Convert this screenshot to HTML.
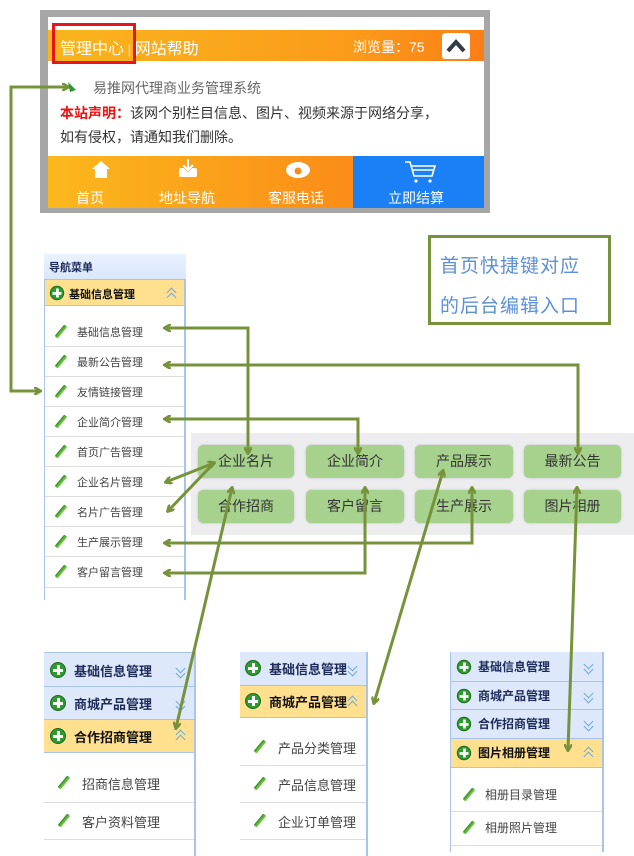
<!DOCTYPE html>
<html><head><meta charset="utf-8"><style>
*{margin:0;padding:0;box-sizing:border-box}
body{width:634px;height:856px;background:#fff;position:relative;overflow:hidden;font-family:"Liberation Sans","Noto Sans CJK SC",sans-serif}
.a{position:absolute;white-space:nowrap}
.hd{position:absolute;background:#dde9fb;border-bottom:1px solid #a9c4ec;font-weight:bold;color:#1e2a5a;font-size:13px}
.hd.y{background:#ffe08f;color:#111}
.plus{position:absolute;width:16px;height:16px;border-radius:50%;background:#2f9a2f;border:1px solid #1d6b1d}
.plus:before{content:"";position:absolute;left:6px;top:2px;width:3px;height:10px;background:#fff}
.plus:after{content:"";position:absolute;left:2px;top:6px;width:10px;height:3px;background:#fff}
.ch{position:absolute;width:12px;height:14px}
.ch:before,.ch:after{content:"";position:absolute;left:3px;width:6px;height:6px;border-left:1.5px solid #6ea8e0;border-top:1.5px solid #6ea8e0}
.ch.u:before{top:3px;transform:rotate(45deg)}.ch.u:after{top:8px;transform:rotate(45deg)}
.ch.d:before{top:0px;transform:rotate(225deg)}.ch.d:after{top:5px;transform:rotate(225deg)}
.it{position:absolute;border-bottom:1px solid #ddd;color:#444;font-size:12px}
.pen{position:absolute;width:4px;height:15px;background:linear-gradient(90deg,#2f8a1e,#8ad65a);transform:rotate(40deg);border-radius:1px}
.btn{position:absolute;background:#a7d28d;border-radius:5px;box-shadow:0 0 2px #bbb;color:#333;font-size:14px;text-align:center;line-height:33px;height:33px}
</style></head><body>

<!-- top phone panel -->
<div class="a" style="left:40px;top:10px;width:450px;height:203px;background:#a6a6a6"></div>
<div class="a" style="left:48px;top:17px;width:436px;height:191px;background:#fff"></div>
<div class="a" style="left:48px;top:30px;width:436px;height:31px;background:linear-gradient(90deg,#f9b51d,#fb9b1a 70%,#fb7e17)"></div>
<div class="a" style="left:60px;top:35px;color:#fff;font-size:16px">管理中心<span style="font-size:13px;color:#fde"> | </span>网站帮助</div>
<div class="a" style="left:353px;top:37px;color:#fff;font-size:14px">浏览量：75</div>
<div class="a" style="left:442px;top:33px;width:28px;height:26px;background:#fff;border-radius:3px"></div>
<svg class="a" style="left:442px;top:33px" width="28" height="26"><polyline points="6,18 14,9 22,18" fill="none" stroke="#333c44" stroke-width="4"/></svg>
<div class="a" style="left:52px;top:23px;width:84px;height:41px;border:3px solid #e4161b"></div>
<div class="a" style="left:93px;top:78px;color:#666;font-size:14px">易推网代理商业务管理系统</div>
<div class="a" style="left:60px;top:103px;color:#333;font-size:14px"><b style="color:#e11">本站声明：</b>该网个别栏目信息、图片、视频来源于网络分享，</div>
<div class="a" style="left:60px;top:127px;color:#333;font-size:14px">如有侵权，请通知我们删除。</div>
<div class="a" style="left:48px;top:156px;width:305px;height:52px;background:linear-gradient(90deg,#fbb81d,#fb8c18)"></div>
<div class="a" style="left:353px;top:156px;width:131px;height:52px;background:#1b80f5"></div>
<div class="a" style="left:76px;top:188px;color:#fff;font-size:14px">首页</div>
<div class="a" style="left:159px;top:188px;color:#fff;font-size:14px">地址导航</div>
<div class="a" style="left:268px;top:188px;color:#fff;font-size:14px">客服电话</div>
<div class="a" style="left:388px;top:188px;color:#fff;font-size:14px">立即结算</div>
<svg class="a" style="left:48px;top:156px" width="436" height="32">
<polygon points="44,13 53,5 62,13 59,13 59,22 47,22 47,13" fill="#fff"/>
<rect x="131" y="12" width="18" height="9" rx="2" fill="#fff"/><path d="M140 3 V13 M135 9 L140 14 L145 9" stroke="#fb9b1a" stroke-width="3" fill="none"/><path d="M140 3 V13 M135 9 L140 14 L145 9" stroke="#fff" stroke-width="2" fill="none"/>
<ellipse cx="250" cy="14" rx="12" ry="8" fill="#fff"/><circle cx="250" cy="15" r="3.5" fill="#fb8c18"/>
<path d="M357 6 H362 L366 20 H384 L387 10 H364" stroke="#fff" stroke-width="1.6" fill="none"/><path d="M365 14 H386" stroke="#fff" stroke-width="1.5"/><circle cx="368" cy="25" r="1.6" fill="#fff"/><circle cx="382" cy="25" r="1.6" fill="#fff"/>
</svg>

<!-- left nav -->
<div class="a" style="left:44px;top:254px;width:142px;height:346px;border-left:1px solid #a9c4ec;border-right:2px solid #a9c4ec"></div>
<div class="hd" style="left:44px;top:254px;width:142px;height:26px;background:linear-gradient(#eaf2fe,#d9e7fb);font-size:11px;padding:5px 0 0 5px">导航菜单</div>
<div class="hd y" style="left:45px;top:280px;width:139px;height:26px;font-size:11px;padding:6px 0 0 24px"><span class="plus" style="left:4px;top:5px;transform:scale(.9)"></span>基础信息管理<span class="ch u" style="left:120px;top:6px"></span></div>
<div class="it" style="left:45px;top:316px;width:139px;height:31px"><span class="pen" style="left:14px;top:8px"></span><span class="a" style="left:32px;top:8px;font-size:11px">基础信息管理</span></div>
<div class="it" style="left:45px;top:347px;width:139px;height:30px"><span class="pen" style="left:14px;top:7px"></span><span class="a" style="left:32px;top:7px;font-size:11px">最新公告管理</span></div>
<div class="it" style="left:45px;top:377px;width:139px;height:30px"><span class="pen" style="left:14px;top:7px"></span><span class="a" style="left:32px;top:7px;font-size:11px">友情链接管理</span></div>
<div class="it" style="left:45px;top:407px;width:139px;height:30px"><span class="pen" style="left:14px;top:7px"></span><span class="a" style="left:32px;top:7px;font-size:11px">企业简介管理</span></div>
<div class="it" style="left:45px;top:437px;width:139px;height:30px"><span class="pen" style="left:14px;top:7px"></span><span class="a" style="left:32px;top:7px;font-size:11px">首页广告管理</span></div>
<div class="it" style="left:45px;top:467px;width:139px;height:30px"><span class="pen" style="left:14px;top:7px"></span><span class="a" style="left:32px;top:7px;font-size:11px">企业名片管理</span></div>
<div class="it" style="left:45px;top:497px;width:139px;height:30px"><span class="pen" style="left:14px;top:7px"></span><span class="a" style="left:32px;top:7px;font-size:11px">名片广告管理</span></div>
<div class="it" style="left:45px;top:527px;width:139px;height:30px"><span class="pen" style="left:14px;top:7px"></span><span class="a" style="left:32px;top:7px;font-size:11px">生产展示管理</span></div>
<div class="it" style="left:45px;top:557px;width:139px;height:31px"><span class="pen" style="left:14px;top:7px"></span><span class="a" style="left:32px;top:7px;font-size:11px">客户留言管理</span></div>

<!-- note box -->
<div class="a" style="left:428px;top:235px;width:183px;height:90px;border:3px solid #76933c"></div>
<div class="a" style="left:440px;top:251px;color:#5d8fd8;font-size:19px;letter-spacing:1px">首页快捷键对应</div>
<div class="a" style="left:440px;top:291px;color:#5d8fd8;font-size:19px;letter-spacing:1px">的后台编辑入口</div>

<!-- button grid -->
<div class="a" style="left:191px;top:433px;width:443px;height:102px;background:#ededf0"></div>
<div class="btn" style="left:198px;top:445px;width:96px">企业名片</div>
<div class="btn" style="left:306px;top:445px;width:98px">企业简介</div>
<div class="btn" style="left:415px;top:445px;width:98px">产品展示</div>
<div class="btn" style="left:524px;top:445px;width:97px">最新公告</div>
<div class="btn" style="left:198px;top:490px;width:96px">合作招商</div>
<div class="btn" style="left:306px;top:490px;width:98px">客户留言</div>
<div class="btn" style="left:415px;top:490px;width:98px">生产展示</div>
<div class="btn" style="left:524px;top:490px;width:97px">图片相册</div>

<!-- bottom panel 1 -->
<div class="a" style="left:44px;top:652px;width:152px;height:204px;border-right:2px solid #a9c4ec"></div>
<div class="hd" style="left:44px;top:652px;width:150px;height:35px;padding:8px 0 0 30px;border-top:1px solid #a9c4ec"><span class="plus" style="left:6px;top:9px"></span>基础信息管理<span class="ch d" style="left:130px;top:12px"></span></div>
<div class="hd" style="left:44px;top:687px;width:150px;height:33px;padding:7px 0 0 30px"><span class="plus" style="left:6px;top:8px"></span>商城产品管理<span class="ch d" style="left:130px;top:11px"></span></div>
<div class="hd y" style="left:44px;top:720px;width:150px;height:33px;padding:7px 0 0 30px"><span class="plus" style="left:6px;top:8px"></span>合作招商管理<span class="ch u" style="left:130px;top:8px"></span></div>
<div class="it" style="left:44px;top:753px;width:150px;height:50px"><span class="pen" style="left:18px;top:22px"></span><span class="a" style="left:38px;top:21px;font-size:13px">招商信息管理</span></div>
<div class="it" style="left:44px;top:803px;width:150px;height:37px"><span class="pen" style="left:18px;top:10px"></span><span class="a" style="left:38px;top:9px;font-size:13px">客户资料管理</span></div>

<!-- bottom panel 2 -->
<div class="a" style="left:240px;top:652px;width:128px;height:204px;border-right:2px solid #a9c4ec"></div>
<div class="hd" style="left:240px;top:652px;width:126px;height:34px;padding:7px 0 0 29px"><span class="plus" style="left:5px;top:8px"></span>基础信息管理<span class="ch d" style="left:106px;top:11px"></span></div>
<div class="hd y" style="left:240px;top:686px;width:126px;height:32px;padding:6px 0 0 29px"><span class="plus" style="left:5px;top:7px"></span>商城产品管理<span class="ch u" style="left:106px;top:8px"></span></div>
<div class="it" style="left:240px;top:718px;width:126px;height:48px"><span class="pen" style="left:18px;top:21px"></span><span class="a" style="left:38px;top:20px;font-size:13px">产品分类管理</span></div>
<div class="it" style="left:240px;top:766px;width:126px;height:37px"><span class="pen" style="left:18px;top:10px"></span><span class="a" style="left:38px;top:9px;font-size:13px">产品信息管理</span></div>
<div class="it" style="left:240px;top:803px;width:126px;height:37px"><span class="pen" style="left:18px;top:10px"></span><span class="a" style="left:38px;top:9px;font-size:13px">企业订单管理</span></div>

<!-- bottom panel 3 -->
<div class="a" style="left:450px;top:652px;width:154px;height:200px;border-left:1px solid #a9c4ec;border-right:2px solid #a9c4ec"></div>
<div class="hd" style="left:451px;top:652px;width:151px;height:30px;padding:6px 0 0 27px;font-size:12px"><span class="plus" style="left:5px;top:7px;transform:scale(.9)"></span>基础信息管理<span class="ch d" style="left:131px;top:9px"></span></div>
<div class="hd" style="left:451px;top:682px;width:151px;height:28px;padding:5px 0 0 27px;font-size:12px"><span class="plus" style="left:5px;top:6px;transform:scale(.9)"></span>商城产品管理<span class="ch d" style="left:131px;top:8px"></span></div>
<div class="hd" style="left:451px;top:710px;width:151px;height:29px;padding:5px 0 0 27px;font-size:12px"><span class="plus" style="left:5px;top:6px;transform:scale(.9)"></span>合作招商管理<span class="ch d" style="left:131px;top:8px"></span></div>
<div class="hd y" style="left:451px;top:739px;width:151px;height:29px;padding:5px 0 0 27px;font-size:12px"><span class="plus" style="left:5px;top:6px;transform:scale(.9)"></span>图片相册管理<span class="ch u" style="left:131px;top:6px"></span></div>
<div class="it" style="left:451px;top:768px;width:151px;height:44px"><span class="pen" style="left:16px;top:19px"></span><span class="a" style="left:34px;top:18px;font-size:12px">相册目录管理</span></div>
<div class="it" style="left:451px;top:812px;width:151px;height:34px"><span class="pen" style="left:16px;top:8px"></span><span class="a" style="left:34px;top:7px;font-size:12px">相册照片管理</span></div>

<!-- connectors -->
<svg class="a" style="left:0;top:0" width="634" height="856">
<defs><marker id="h" markerWidth="8" markerHeight="8" refX="6" refY="4" orient="auto-start-reverse" markerUnits="userSpaceOnUse"><path d="M0,0 L7,4 L0,8" fill="none" stroke="#76933c" stroke-width="2.5"/></marker></defs>
<g fill="none" stroke="#76933c" stroke-width="3">
<polyline points="40,391 11,391 11,87 68,87" marker-start="url(#h)" marker-end="url(#h)"/>
<polyline points="165,328 248,328 248,453" marker-start="url(#h)" marker-end="url(#h)"/>
<polyline points="165,365 578,365 578,453" marker-start="url(#h)" marker-end="url(#h)"/>
<polyline points="165,419 358,419 358,453" marker-start="url(#h)" marker-end="url(#h)"/>
<line x1="214" y1="463" x2="166" y2="482" marker-start="url(#h)" marker-end="url(#h)"/>
<line x1="214" y1="463" x2="168" y2="511" marker-end="url(#h)"/>
<polyline points="165,543 472,543 472,488" marker-start="url(#h)" marker-end="url(#h)"/>
<polyline points="165,573 365,573 365,488" marker-start="url(#h)" marker-end="url(#h)"/>
<line x1="232" y1="488" x2="176" y2="728" marker-start="url(#h)" marker-end="url(#h)"/>
<line x1="443" y1="471" x2="374" y2="703" marker-start="url(#h)" marker-end="url(#h)"/>
<line x1="577" y1="488" x2="568" y2="750" marker-start="url(#h)" marker-end="url(#h)"/>
</g>
<path d="M68,82 L76,90 L70,92 Z" fill="#2a9a2a"/>
</svg>
</body></html>
